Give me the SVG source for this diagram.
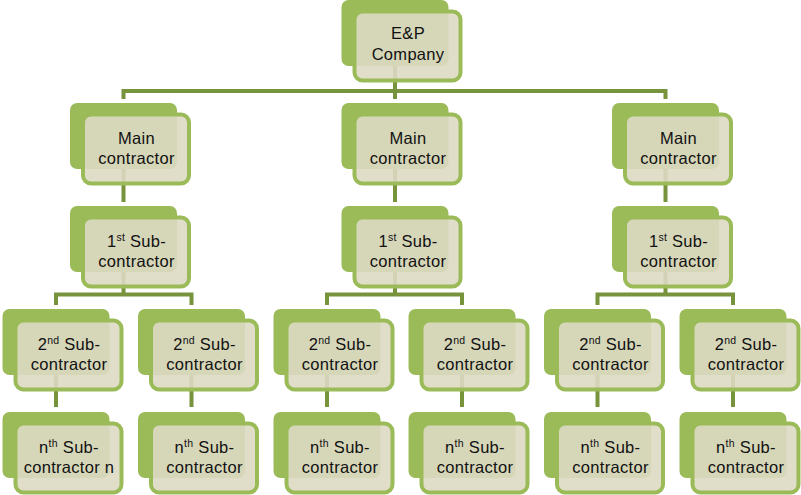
<svg xmlns="http://www.w3.org/2000/svg" width="801" height="495" viewBox="0 0 801 495">
  <style>
    .conn { fill: none; stroke: #77933c; stroke-width: 4; stroke-linejoin: miter; stroke-linecap: butt; }
    .back { fill: #9bbb59; }
    .front { fill: #ddd9c3; fill-opacity: 0.9; stroke: #9bbb59; stroke-width: 4; }
    .label { font-family: "Liberation Sans", Arial, sans-serif; font-size: 16.5px; fill: #111111; text-anchor: middle; letter-spacing: 0.3px; }
    .sup { font-size: 10.5px; }
  </style>
  <rect width="801" height="495" fill="#ffffff"/>

  <!-- connectors -->
  <g id="connectors">
    <!-- E&P company to main contractors -->
    <path class="conn" d="M395 66 V99 M123.5 99 V91 H665.5 V99"/>
    <!-- main contractor to 1st sub-contractor -->
    <path class="conn" d="M123.5 169 V202 M395 169 V202 M665.5 169 V202"/>
    <!-- 1st sub-contractor to 2nd sub-contractors -->
    <path class="conn" d="M123.5 272 V294.5 M56 305 V294.5 H191.5 V305"/>
    <path class="conn" d="M395 272 V294.5 M327 305 V294.5 H462 V305"/>
    <path class="conn" d="M665.5 272 V294.5 M597.5 305 V294.5 H733 V305"/>
    <!-- 2nd sub-contractor to nth sub-contractor -->
    <path class="conn" d="M56 375 V407 M191.5 375 V407 M327 375 V407 M462 375 V407 M597.5 375 V407 M733 375 V407"/>
  </g>

  <!-- top -->
  <g id="ep-company" transform="translate(341.5,0)">
    <rect class="back" width="107" height="66" rx="7"/>
    <rect class="front" x="13" y="11.5" width="106" height="69" rx="8"/>
    <text class="label" x="66.5" y="39">E&amp;P</text>
    <text class="label" x="66.5" y="59.5">Company</text>
  </g>

  <!-- main contractors -->
  <g id="main-1" transform="translate(70,103)">
    <rect class="back" width="107" height="66" rx="7"/>
    <rect class="front" x="13" y="11.5" width="106" height="69" rx="8"/>
    <text class="label" x="66.5" y="41">Main</text>
    <text class="label" x="66.5" y="60.5">contractor</text>
  </g>
  <g id="main-2" transform="translate(341.5,103)">
    <rect class="back" width="107" height="66" rx="7"/>
    <rect class="front" x="13" y="11.5" width="106" height="69" rx="8"/>
    <text class="label" x="66.5" y="41">Main</text>
    <text class="label" x="66.5" y="60.5">contractor</text>
  </g>
  <g id="main-3" transform="translate(612,103)">
    <rect class="back" width="107" height="66" rx="7"/>
    <rect class="front" x="13" y="11.5" width="106" height="69" rx="8"/>
    <text class="label" x="66.5" y="41">Main</text>
    <text class="label" x="66.5" y="60.5">contractor</text>
  </g>

  <!-- 1st sub-contractors -->
  <g id="sub1-1" transform="translate(70,206)">
    <rect class="back" width="107" height="66" rx="7"/>
    <rect class="front" x="13" y="11.5" width="106" height="69" rx="8"/>
    <text class="label" x="66.5" y="41">1<tspan class="sup" dy="-6">st</tspan><tspan dy="6"> Sub-</tspan></text>
    <text class="label" x="66.5" y="60.5">contractor</text>
  </g>
  <g id="sub1-2" transform="translate(341.5,206)">
    <rect class="back" width="107" height="66" rx="7"/>
    <rect class="front" x="13" y="11.5" width="106" height="69" rx="8"/>
    <text class="label" x="66.5" y="41">1<tspan class="sup" dy="-6">st</tspan><tspan dy="6"> Sub-</tspan></text>
    <text class="label" x="66.5" y="60.5">contractor</text>
  </g>
  <g id="sub1-3" transform="translate(612,206)">
    <rect class="back" width="107" height="66" rx="7"/>
    <rect class="front" x="13" y="11.5" width="106" height="69" rx="8"/>
    <text class="label" x="66.5" y="41">1<tspan class="sup" dy="-6">st</tspan><tspan dy="6"> Sub-</tspan></text>
    <text class="label" x="66.5" y="60.5">contractor</text>
  </g>

  <!-- 2nd sub-contractors -->
  <g id="sub2-1" transform="translate(2.5,309)">
    <rect class="back" width="107" height="66" rx="7"/>
    <rect class="front" x="13" y="11.5" width="106" height="69" rx="8"/>
    <text class="label" x="66.5" y="41">2<tspan class="sup" dy="-6">nd</tspan><tspan dy="6"> Sub-</tspan></text>
    <text class="label" x="66.5" y="60.5">contractor</text>
  </g>
  <g id="sub2-2" transform="translate(138,309)">
    <rect class="back" width="107" height="66" rx="7"/>
    <rect class="front" x="13" y="11.5" width="106" height="69" rx="8"/>
    <text class="label" x="66.5" y="41">2<tspan class="sup" dy="-6">nd</tspan><tspan dy="6"> Sub-</tspan></text>
    <text class="label" x="66.5" y="60.5">contractor</text>
  </g>
  <g id="sub2-3" transform="translate(273.5,309)">
    <rect class="back" width="107" height="66" rx="7"/>
    <rect class="front" x="13" y="11.5" width="106" height="69" rx="8"/>
    <text class="label" x="66.5" y="41">2<tspan class="sup" dy="-6">nd</tspan><tspan dy="6"> Sub-</tspan></text>
    <text class="label" x="66.5" y="60.5">contractor</text>
  </g>
  <g id="sub2-4" transform="translate(408.5,309)">
    <rect class="back" width="107" height="66" rx="7"/>
    <rect class="front" x="13" y="11.5" width="106" height="69" rx="8"/>
    <text class="label" x="66.5" y="41">2<tspan class="sup" dy="-6">nd</tspan><tspan dy="6"> Sub-</tspan></text>
    <text class="label" x="66.5" y="60.5">contractor</text>
  </g>
  <g id="sub2-5" transform="translate(544,309)">
    <rect class="back" width="107" height="66" rx="7"/>
    <rect class="front" x="13" y="11.5" width="106" height="69" rx="8"/>
    <text class="label" x="66.5" y="41">2<tspan class="sup" dy="-6">nd</tspan><tspan dy="6"> Sub-</tspan></text>
    <text class="label" x="66.5" y="60.5">contractor</text>
  </g>
  <g id="sub2-6" transform="translate(679.5,309)">
    <rect class="back" width="107" height="66" rx="7"/>
    <rect class="front" x="13" y="11.5" width="106" height="69" rx="8"/>
    <text class="label" x="66.5" y="41">2<tspan class="sup" dy="-6">nd</tspan><tspan dy="6"> Sub-</tspan></text>
    <text class="label" x="66.5" y="60.5">contractor</text>
  </g>

  <!-- nth sub-contractors -->
  <g id="subn-1" transform="translate(2.5,412)">
    <rect class="back" width="107" height="66" rx="7"/>
    <rect class="front" x="13" y="11.5" width="106" height="69" rx="8"/>
    <text class="label" x="66.5" y="41">n<tspan class="sup" dy="-6">th</tspan><tspan dy="6"> Sub-</tspan></text>
    <text class="label" x="66.5" y="60.5">contractor n</text>
  </g>
  <g id="subn-2" transform="translate(138,412)">
    <rect class="back" width="107" height="66" rx="7"/>
    <rect class="front" x="13" y="11.5" width="106" height="69" rx="8"/>
    <text class="label" x="66.5" y="41">n<tspan class="sup" dy="-6">th</tspan><tspan dy="6"> Sub-</tspan></text>
    <text class="label" x="66.5" y="60.5">contractor</text>
  </g>
  <g id="subn-3" transform="translate(273.5,412)">
    <rect class="back" width="107" height="66" rx="7"/>
    <rect class="front" x="13" y="11.5" width="106" height="69" rx="8"/>
    <text class="label" x="66.5" y="41">n<tspan class="sup" dy="-6">th</tspan><tspan dy="6"> Sub-</tspan></text>
    <text class="label" x="66.5" y="60.5">contractor</text>
  </g>
  <g id="subn-4" transform="translate(408.5,412)">
    <rect class="back" width="107" height="66" rx="7"/>
    <rect class="front" x="13" y="11.5" width="106" height="69" rx="8"/>
    <text class="label" x="66.5" y="41">n<tspan class="sup" dy="-6">th</tspan><tspan dy="6"> Sub-</tspan></text>
    <text class="label" x="66.5" y="60.5">contractor</text>
  </g>
  <g id="subn-5" transform="translate(544,412)">
    <rect class="back" width="107" height="66" rx="7"/>
    <rect class="front" x="13" y="11.5" width="106" height="69" rx="8"/>
    <text class="label" x="66.5" y="41">n<tspan class="sup" dy="-6">th</tspan><tspan dy="6"> Sub-</tspan></text>
    <text class="label" x="66.5" y="60.5">contractor</text>
  </g>
  <g id="subn-6" transform="translate(679.5,412)">
    <rect class="back" width="107" height="66" rx="7"/>
    <rect class="front" x="13" y="11.5" width="106" height="69" rx="8"/>
    <text class="label" x="66.5" y="41">n<tspan class="sup" dy="-6">th</tspan><tspan dy="6"> Sub-</tspan></text>
    <text class="label" x="66.5" y="60.5">contractor</text>
  </g>
</svg>
